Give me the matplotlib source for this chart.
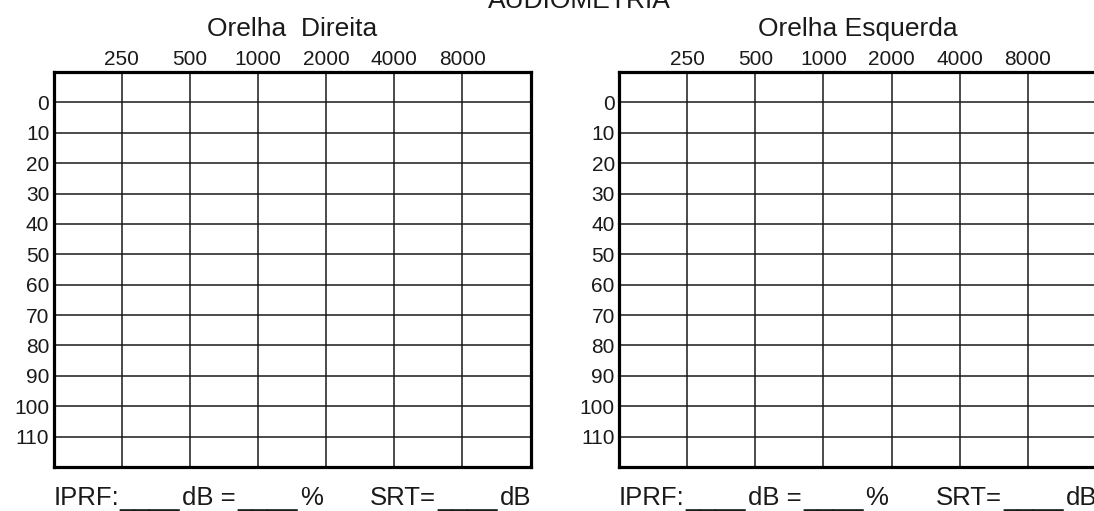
import matplotlib.pyplot as plt

W, H = 1094, 511

# dados do audiograma (em branco)
freq_labels = ['250', '500', '1000', '2000', '4000', '8000']
db_levels = [0, 10, 20, 30, 40, 50, 60, 70, 80, 90, 100, 110]
ears = ['Orelha  Direita', 'Orelha Esquerda']
title = 'AUDIOMETRIA'
footer_texts = ['IPRF:', '____', 'dB =', '____', '%', 'SRT=', '____', 'dB']

plt.rcParams['font.family'] = ['Liberation Sans', 'DejaVu Sans']
fig = plt.figure(figsize=(W / 100, H / 100), dpi=100)

# layout em pixels
box_left = [53.5, 619]
box_w = 477
top, bot = 72, 467
footer_dx = [0, 66, 128.5, 184, 246.5, 316.5, 384, 446.5]
ink = '#1a1a1a'


def fx(x):
    return x / W


def fy(y):
    return 1 - y / H


for i, ear in enumerate(ears):
    x0 = box_left[i]
    ax = fig.add_axes([fx(x0), fy(bot), box_w / W, (bot - top) / H])
    ax.set_xlim(0, 7)
    ax.set_ylim(120, -10)
    ax.xaxis.tick_top()
    ax.set_xticks(range(1, len(freq_labels) + 1))
    ax.set_xticklabels(freq_labels)
    ax.set_yticks(db_levels)
    ax.tick_params(axis='x', length=0, labelsize=15, pad=2, colors=ink)
    ax.tick_params(axis='y', length=0, labelsize=15, pad=3, colors=ink)
    ax.grid(True, color=ink, linewidth=1.1)
    for s in ax.spines.values():
        s.set_linewidth(2.3)
        s.set_color('black')

    fig.text(fx(x0 + box_w / 2), fy(36), ear, ha='center', va='baseline',
             fontsize=19, color=ink)

    # rodape: IPRF / SRT
    for dx, t in zip(footer_dx, footer_texts):
        size = 19.5 if t.startswith('_') else 18.5
        fig.text(fx(x0 + dx), fy(505), t, ha='left', va='baseline',
                 fontsize=size, color=ink)

fig.text(fx(579), fy(7.5), title, ha='center', va='baseline',
         fontsize=19, color=ink)

fig.savefig('out.png', dpi=100, facecolor='white')
